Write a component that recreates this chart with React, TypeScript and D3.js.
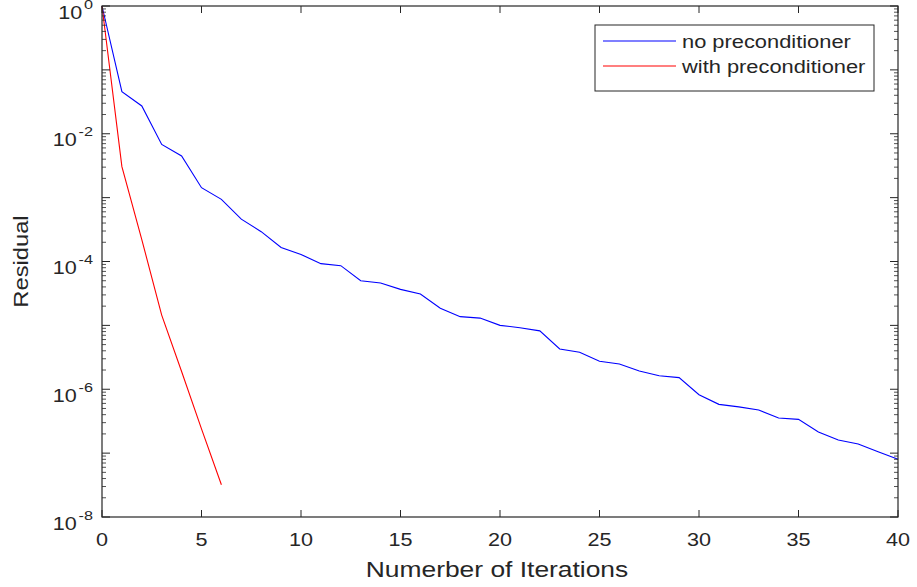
import React from "react";
import * as d3 from "d3";

const iterations: number[] = d3.range(0, 41);
const noPrecond: number[] = [
  1, 0.0455, 0.0272, 6.8e-3, 4.5e-3, 1.43e-3, 9.4e-4, 4.6e-4, 2.93e-4, 1.66e-4,
  1.29e-4, 9.25e-5, 8.6e-5, 5.0e-5, 4.6e-5, 3.66e-5, 3.1e-5, 1.85e-5, 1.37e-5, 1.3e-5,
  1.0e-5, 9.2e-6, 8.2e-6, 4.27e-6, 3.8e-6, 2.74e-6, 2.48e-6, 1.93e-6, 1.63e-6, 1.52e-6,
  8.2e-7, 5.8e-7, 5.3e-7, 4.73e-7, 3.55e-7, 3.38e-7, 2.14e-7, 1.6e-7, 1.39e-7, 1.05e-7,
  8.0e-8,
];
const withIterations: number[] = [0, 1, 2, 3, 4, 5, 6];
const withPrecond: number[] = [1, 3.05e-3, 2.2e-4, 1.45e-5, 1.9e-6, 2.4e-7, 3.2e-8];

const xTicks: number[] = [0, 5, 10, 15, 20, 25, 30, 35, 40];
const yTickExps: number[] = [0, -2, -4, -6, -8];
const seriesNames: string[] = ["no preconditioner", "with preconditioner"];
const seriesColors: string[] = ["#0000ff", "#ff0000"];

const W = 917;
const H = 587;
const L = 102, R = 898, T = 6, B = 517;
const AX = "#262626";
const FONT = "'Liberation Sans', Arial, Helvetica, sans-serif";

function STxt(props: {
  x: number; y: number; size: number; sx?: number; anchor?: string; rotate?: number; children: React.ReactNode;
}) {
  const { x, y, size, sx = 1.15, anchor = "start", rotate = 0, children } = props;
  return (
    <text
      transform={`translate(${x},${y}) rotate(${rotate}) scale(${sx},1)`}
      textAnchor={anchor as any}
      fontSize={size}
      fontFamily={FONT}
      fill={AX}
    >
      {children}
    </text>
  );
}

export default function App() {
  const x = d3.scaleLinear().domain([0, 40]).range([L, R]);
  const y = d3.scaleLog().domain([1e-8, 1]).range([B, T]);

  const line = d3
    .line<[number, number]>()
    .x((d) => x(d[0]))
    .y((d) => y(d[1]));

  const blueData: [number, number][] = iterations.map((it, i) => [it, noPrecond[i]]);
  const redData: [number, number][] = withIterations.map((it, i) => [it, withPrecond[i]]);

  const minorTicks: number[] = [];
  for (let e = -8; e < 0; e++) {
    for (let m = 2; m <= 9; m++) minorTicks.push(m * Math.pow(10, e));
  }
  const majorY: number[] = d3.range(-8, 1).map((e) => Math.pow(10, e));

  return (
    <svg width={W} height={H} style={{ position: "absolute", left: 0, top: 0, display: "block", background: "#fff" }}>
      <rect x={0} y={0} width={W} height={H} fill="#fff" />
      <path d={line(blueData) || ""} fill="none" stroke={seriesColors[0]} strokeWidth={1.1} />
      <path d={line(redData) || ""} fill="none" stroke={seriesColors[1]} strokeWidth={1.1} />

      {/* frame */}
      <rect x={L} y={T} width={R - L} height={B - T} fill="none" stroke={AX} strokeWidth={1.2} />

      {/* x ticks */}
      {xTicks.map((t) => (
        <g key={"xt" + t}>
          <line x1={x(t)} x2={x(t)} y1={B} y2={B - 7} stroke={AX} strokeWidth={1} />
          <line x1={x(t)} x2={x(t)} y1={T} y2={T + 7} stroke={AX} strokeWidth={1} />
          <STxt x={x(t)} y={546} size={18} sx={1.2} anchor="middle">{t}</STxt>
        </g>
      ))}

      {/* y ticks */}
      {majorY.map((v, i) => (
        <g key={"ym" + i}>
          <line x1={L} x2={L + 8} y1={y(v)} y2={y(v)} stroke={AX} strokeWidth={1} />
          <line x1={R} x2={R - 8} y1={y(v)} y2={y(v)} stroke={AX} strokeWidth={1} />
        </g>
      ))}
      {minorTicks.map((v, i) => (
        <g key={"yn" + i}>
          <line x1={L} x2={L + 4} y1={y(v)} y2={y(v)} stroke={AX} strokeWidth={0.8} />
          <line x1={R} x2={R - 4} y1={y(v)} y2={y(v)} stroke={AX} strokeWidth={0.8} />
        </g>
      ))}
      {yTickExps.map((e) => (
        <text
          key={"yl" + e}
          transform={`translate(93,${y(Math.pow(10, e)) + 12.5}) scale(1.2,1)`}
          textAnchor="end"
          fontFamily={FONT}
          fill={AX}
          fontSize={18}
        >
          <tspan>10</tspan>
          <tspan dx={1.5} dy={-10} fontSize={13.5}>{String(e)}</tspan>
        </text>
      ))}

      {/* axis labels */}
      <STxt x={497} y={577} size={22} sx={1.2} anchor="middle">Numerber of Iterations</STxt>
      <STxt x={28} y={(T + B) / 2} size={21} sx={1.13} anchor="middle" rotate={-90}>Residual</STxt>

      {/* legend */}
      <rect x={595} y={25} width={279} height={66} fill="#fff" stroke={AX} strokeWidth={1} />
      {seriesNames.map((n, i) => {
        const ly = 41 + i * 25;
        return (
          <g key={n}>
            <line x1={603} x2={676} y1={ly} y2={ly} stroke={seriesColors[i]} strokeWidth={1.1} />
            <STxt x={682} y={ly + 6.5} size={19} sx={1.15}>{n}</STxt>
          </g>
        );
      })}
    </svg>
  );
}
